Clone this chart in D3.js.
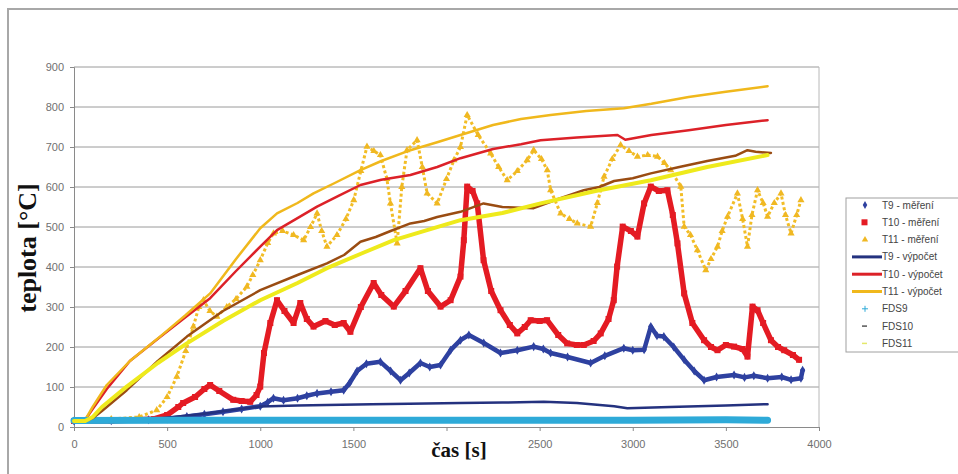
<!DOCTYPE html>
<html>
<head>
<meta charset="utf-8">
<script src="https://cdn.jsdelivr.net/npm/d3@7"></script>
<style>
    body { margin: 0; background: #fff; }
    svg { display: block; }
</style>
</head>
<body>
<script>
    'use strict';

    // data: [time s, temperature °C]
    var t9Mereni = [[0,15],[200,16],[400,18],[500,20],[606,26],[700,32],[800,38],[900,45],[1000,52],[1040,62],[1071,72],[1125,67],[1200,72],
        [1250,78],[1305,84],[1380,88],[1448,92],[1480,110],[1520,140],[1570,158],[1645,163],[1700,140],[1753,117],[1800,135],[1860,160],
        [1910,150],[1968,155],[2022,192],[2075,217],[2120,230],[2200,210],[2290,185],[2380,192],[2468,201],[2520,195],[2559,185],
        [2650,175],[2774,160],[2850,178],[2952,197],[3000,192],[3061,193],[3097,251],[3130,228],[3167,226],[3220,200],[3276,168],
        [3330,140],[3383,117],[3450,125],[3544,130],[3600,124],[3650,128],[3724,122],[3800,125],[3850,118],[3903,122],[3912,142]];

    var t10Mereni = [[0,15],[200,15],[430,20],[500,30],[560,50],[586,60],[650,75],[700,95],[731,105],[780,90],[855,68],[900,65],
        [946,63],[980,80],[1000,101],[1020,185],[1054,260],[1090,317],[1130,290],[1179,260],[1215,310],[1250,270],[1286,251],
        [1350,265],[1400,255],[1448,260],[1484,238],[1540,300],[1609,360],[1650,330],[1717,301],[1780,340],[1860,397],[1900,340],
        [1968,301],[2022,317],[2075,376],[2093,467],[2111,601],[2140,590],[2165,559],[2199,417],[2240,340],[2290,292],[2340,255],
        [2380,234],[2420,250],[2452,267],[2500,265],[2540,267],[2600,230],[2648,209],[2700,205],[2737,205],[2790,215],[2828,234],
        [2870,270],[2898,317],[2916,401],[2946,501],[2990,490],[3025,476],[3061,559],[3097,601],[3140,590],[3186,592],[3215,530],
        [3240,459],[3276,334],[3320,260],[3383,217],[3420,200],[3455,192],[3500,205],[3544,201],[3590,195],[3616,176],[3643,301],
        [3670,292],[3700,260],[3742,217],[3780,200],[3813,192],[3860,180],[3893,168]];

    var t11Mereni = [[0,15],[200,20],[350,25],[444,42],[500,75],[552,126],[600,190],[641,251],[670,300],[695,317],[730,290],
        [767,276],[820,300],[870,320],[928,351],[960,380],[1000,417],[1040,460],[1071,484],[1120,490],[1179,480],[1233,467],
        [1270,500],[1305,534],[1330,490],[1358,451],[1412,480],[1460,520],[1502,567],[1540,640],[1573,701],[1610,690],[1645,680],
        [1680,620],[1699,559],[1735,459],[1760,600],[1788,692],[1842,717],[1870,650],[1896,584],[1950,559],[2000,620],[2040,667],
        [2075,700],[2111,780],[2170,730],[2237,684],[2280,650],[2326,617],[2380,640],[2433,667],[2468,692],[2510,670],[2541,642],
        [2559,592],[2613,534],[2660,520],[2702,509],[2774,501],[2810,560],[2846,626],[2890,670],[2935,705],[2980,690],[3025,676],
        [3080,680],[3133,676],[3170,660],[3204,642],[3258,601],[3276,501],[3310,480],[3347,442],[3392,392],[3420,420],[3455,451],
        [3480,490],[3509,526],[3562,584],[3590,520],[3616,451],[3640,530],[3670,592],[3700,560],[3724,526],[3760,560],[3796,584],
        [3820,530],[3850,484],[3880,530],[3903,567]];

    var t9Vypocet = [[0,15],[300,17],[462,22],[600,28],[731,35],[870,44],[1000,51],[1200,54],[1358,55],[1600,57],[1800,58],
        [2075,60],[2300,61],[2522,63],[2700,60],[2900,52],[2971,47],[3200,50],[3500,54],[3724,57]];

    var t10Vypocet = [[0,15],[60,18],[100,45],[176,95],[300,165],[462,225],[600,275],[731,322],[870,390],[1000,451],[1090,492],
        [1200,522],[1305,551],[1420,578],[1538,605],[1650,618],[1806,630],[1950,650],[2075,672],[2250,695],[2400,707],[2505,717],
        [2700,724],[2918,730],[2960,718],[3100,730],[3300,742],[3500,755],[3724,767]];

    var t11Vypocet = [[0,15],[60,18],[100,50],[176,105],[300,165],[462,226],[600,280],[731,334],[870,420],[1000,497],[1090,534],
        [1200,560],[1286,584],[1400,610],[1538,642],[1650,665],[1806,692],[1950,712],[2075,730],[2250,755],[2400,770],[2559,780],
        [2750,790],[2952,797],[3100,808],[3300,825],[3500,838],[3724,852]];

    var fds9 = [[0,16],[500,17],[1000,17],[1500,17],[2000,17],[2500,17],[3000,17],[3500,18],[3724,17]];

    var fds10 = [[0,15],[60,15],[100,22],[150,40],[283,92],[450,165],[606,226],[800,290],[1000,342],[1200,380],[1358,409],
        [1450,430],[1538,463],[1620,475],[1700,490],[1806,509],[1880,515],[1950,525],[2075,538],[2199,559],[2300,550],[2468,547],
        [2600,570],[2737,592],[2820,600],[2900,615],[3000,622],[3097,634],[3250,650],[3400,665],[3550,678],[3616,692],[3660,688],
        [3742,685]];

    var fds11 = [[0,15],[60,15],[100,25],[150,50],[283,101],[450,160],[606,209],[800,265],[1000,317],[1200,360],[1358,397],
        [1550,435],[1717,467],[1900,493],[2075,517],[2300,535],[2505,559],[2800,590],[3097,617],[3400,650],[3724,680]];

    var xTicks = [0, 500, 1000, 1500, 2000, 2500, 3000, 3500, 4000];
    var yTicks = [0, 100, 200, 300, 400, 500, 600, 700, 800, 900];
    var legendNames = ['T9 - měření', 'T10 - měření', 'T11 - měření', 'T9 - výpočet', 'T10 - výpočet', 'T11 - výpočet',
        'FDS9', 'FDS10', 'FDS11'];

    var width = 958, height = 474;
    var plot = { left: 74, top: 67, right: 819, bottom: 427 };

    var svg = d3.select('body').append('svg')
        .attr('width', width)
        .attr('height', height);

    // outer chart frame
    svg.append('path')
        .attr('d', 'M8,' + height + 'V9H' + (width + 2))
        .attr('fill', 'none')
        .attr('stroke', '#a8a8a8')
        .attr('stroke-width', 2);

    var x = d3.scaleLinear().domain([0, 4000]).range([plot.left, plot.right]);
    var y = d3.scaleLinear().domain([0, 900]).range([plot.bottom, plot.top]);

    // gridlines
    svg.append('g')
        .selectAll('line')
        .data(yTicks.slice(1))
        .enter().append('line')
        .attr('x1', plot.left).attr('x2', plot.right)
        .attr('y1', function (d) { return y(d); })
        .attr('y2', function (d) { return y(d); })
        .attr('stroke', '#9a9a9a')
        .attr('stroke-width', 1);

    svg.append('line')
        .attr('x1', plot.right).attr('x2', plot.right)
        .attr('y1', plot.top).attr('y2', plot.bottom)
        .attr('stroke', '#b8b8b8');

    var yAxis = svg.append('g')
        .attr('transform', 'translate(' + plot.left + ',0)')
        .call(d3.axisLeft(y).tickValues(yTicks).tickFormat(d3.format('d')).tickSize(4).tickPadding(6));
    // the 2000 label sits under the axis title in the original, so it is left blank
    var xAxis = svg.append('g')
        .attr('transform', 'translate(0,' + plot.bottom + ')')
        .call(d3.axisBottom(x).tickValues(xTicks)
            .tickFormat(function (d) { return d === 2000 ? '' : d3.format('d')(d); })
            .tickSize(4).tickPadding(9));

    [yAxis, xAxis].forEach(function (ax) {
        ax.select('.domain').attr('stroke', '#8a8a8a');
        ax.selectAll('.tick line').attr('stroke', '#8a8a8a');
        ax.selectAll('text')
            .attr('fill', '#707070')
            .style('font-family', 'Liberation Sans, Arial, sans-serif')
            .style('font-size', '11px');
    });

    var line = d3.line()
        .x(function (d) { return x(d[0]); })
        .y(function (d) { return y(d[1]); });

    function drawLine(data, color, w, dash) {
        svg.append('path')
            .datum(data)
            .attr('d', line)
            .attr('fill', 'none')
            .attr('stroke', color)
            .attr('stroke-width', w)
            .attr('stroke-dasharray', dash || null)
            .attr('stroke-linejoin', 'round')
            .attr('stroke-linecap', dash ? 'butt' : 'round');
    }

    // measured series (dense markers)
    drawLine(t9Mereni, '#2e41a0', 4.5);
    svg.append('g').selectAll('path')
        .data(t9Mereni)
        .enter().append('path')
        .attr('d', d3.symbol().type(d3.symbolDiamond).size(24))
        .attr('transform', function (d) { return 'translate(' + x(d[0]) + ',' + y(d[1]) + ')'; })
        .attr('fill', '#2e41a0');

    drawLine(t10Mereni, '#e41b23', 5.5);
    svg.append('g').selectAll('rect')
        .data(t10Mereni)
        .enter().append('rect')
        .attr('x', function (d) { return x(d[0]) - 3; })
        .attr('y', function (d) { return y(d[1]) - 3; })
        .attr('width', 6).attr('height', 6)
        .attr('fill', '#e41b23');

    drawLine(t11Mereni, '#f2bd26', 3, '3,2.5');
    svg.append('g').selectAll('path')
        .data(t11Mereni)
        .enter().append('path')
        .attr('d', d3.symbol().type(d3.symbolTriangle).size(22))
        .attr('transform', function (d) { return 'translate(' + x(d[0]) + ',' + y(d[1]) + ')'; })
        .attr('fill', '#f0b822');

    // computed series
    drawLine(t9Vypocet, '#24327f', 2.5);
    drawLine(t10Vypocet, '#dc2128', 2.5);
    drawLine(t11Vypocet, '#f0b81c', 2.5);

    // FDS series
    drawLine(fds9, '#2eaad8', 7);
    drawLine(fds10, '#9a4c12', 2.5);
    drawLine(fds11, '#eeea1c', 4);

    // axis titles
    svg.append('text')
        .attr('transform', 'translate(36,248) rotate(-90)')
        .attr('text-anchor', 'middle')
        .style('font-family', 'Liberation Serif, Times New Roman, serif')
        .style('font-weight', 'bold')
        .style('font-size', '26px')
        .attr('fill', '#111')
        .text('teplota [°C]');

    svg.append('text')
        .attr('x', 459).attr('y', 457)
        .attr('text-anchor', 'middle')
        .style('font-family', 'Liberation Serif, Times New Roman, serif')
        .style('font-weight', 'bold')
        .style('font-size', '21px')
        .attr('fill', '#111')
        .text('čas [s]');

    // legend
    var legend = svg.append('g').attr('transform', 'translate(846,198)');
    legend.append('rect')
        .attr('width', 120).attr('height', 154)
        .attr('fill', '#fff')
        .attr('stroke', '#a0a0a0');

    var legendColors = ['#2e41a0', '#e41b23', '#f0b822', '#24327f', '#dc2128', '#f0b81c', '#2eaad8', '#555', '#e4e86a'];
    var rows = legend.selectAll('g.row')
        .data(legendNames)
        .enter().append('g')
        .attr('class', 'row')
        .attr('transform', function (d, i) { return 'translate(0,' + (7 + i * 17.3) + ')'; });

    rows.each(function (d, i) {
        var g = d3.select(this);
        if (i === 0) {
            g.append('path').attr('d', d3.symbol().type(d3.symbolDiamond).size(18))
                .attr('transform', 'translate(19,0)').attr('fill', legendColors[i]);
        } else if (i === 1) {
            g.append('rect').attr('x', 15.5).attr('y', -3).attr('width', 6).attr('height', 6).attr('fill', legendColors[i]);
        } else if (i === 2) {
            g.append('path').attr('d', d3.symbol().type(d3.symbolTriangle).size(18))
                .attr('transform', 'translate(19,0)').attr('fill', legendColors[i]);
        } else if (i < 6) {
            g.append('line').attr('x1', 6).attr('x2', 36).attr('y1', 0).attr('y2', 0)
                .attr('stroke', legendColors[i]).attr('stroke-width', 3);
        } else if (i === 6) {
            g.append('path').attr('d', 'M16,0H22M19,-3V3').attr('stroke', legendColors[i]).attr('stroke-width', 1);
        } else {
            g.append('line').attr('x1', 16).attr('x2', 21).attr('y1', 0).attr('y2', 0)
                .attr('stroke', legendColors[i]).attr('stroke-width', 1.5);
        }
        g.append('text')
            .attr('x', 36)
            .attr('y', 3.5)
            .attr('fill', '#444')
            .style('font-family', 'Liberation Sans, Arial, sans-serif')
            .style('font-size', '10px')
            .text(d);
    });
</script>
</body>
</html>
